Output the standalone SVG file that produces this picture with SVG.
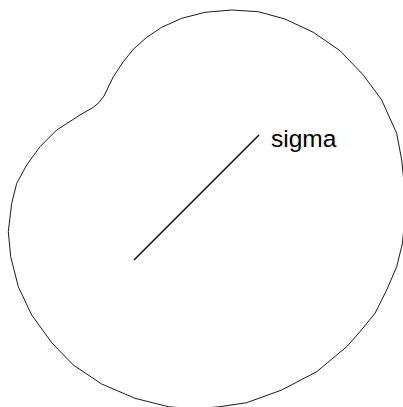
<svg xmlns="http://www.w3.org/2000/svg" width="403" height="407" viewBox="0 0 403 407">
<style>
.outline{fill:none;stroke:#000;stroke-width:0.9;stroke-linejoin:round}
.ray{stroke:#000;stroke-width:1.5;fill:none}
.lbl{font-family:"Liberation Sans",Arial,sans-serif;font-size:24.5px;fill:#000}
</style>
<rect width="403" height="407" fill="#fff"/>
<g id="region">
<polygon class="outline" points="231.7,10 258.3,11.7 285,19 313.3,32.3 340,50.7 363.3,75 381.7,100 396.7,133.3 401.7,160 404.5,188 405,215 402.5,243 396.7,266.7 386.7,290 375,313.3 360,331.7 346.7,346.7 316.7,371.7 281.7,390 246.7,402.7 220,406.7 195,409 168.3,406.7 135,398.3 101.7,384 73.3,365 51.7,342.7 31.7,315 18.3,286.7 10.7,256.7 8.3,231.7 11.7,203.3 16.7,183.3 26.7,165 40,146.7 56.7,130 80,115 93,107.5 99,102.5 104,96 113.3,76.7 123.3,61.7 133.3,49.3 146.7,37.3 161.7,27.3 181.7,18.3 205,12.3"/>
</g>
<g id="connectors">
<line class="ray" x1="134" y1="260" x2="259" y2="135"/>
</g>
<g id="sigma-label">
<text class="lbl" x="271" y="147">sigma</text>
</g>
</svg>
